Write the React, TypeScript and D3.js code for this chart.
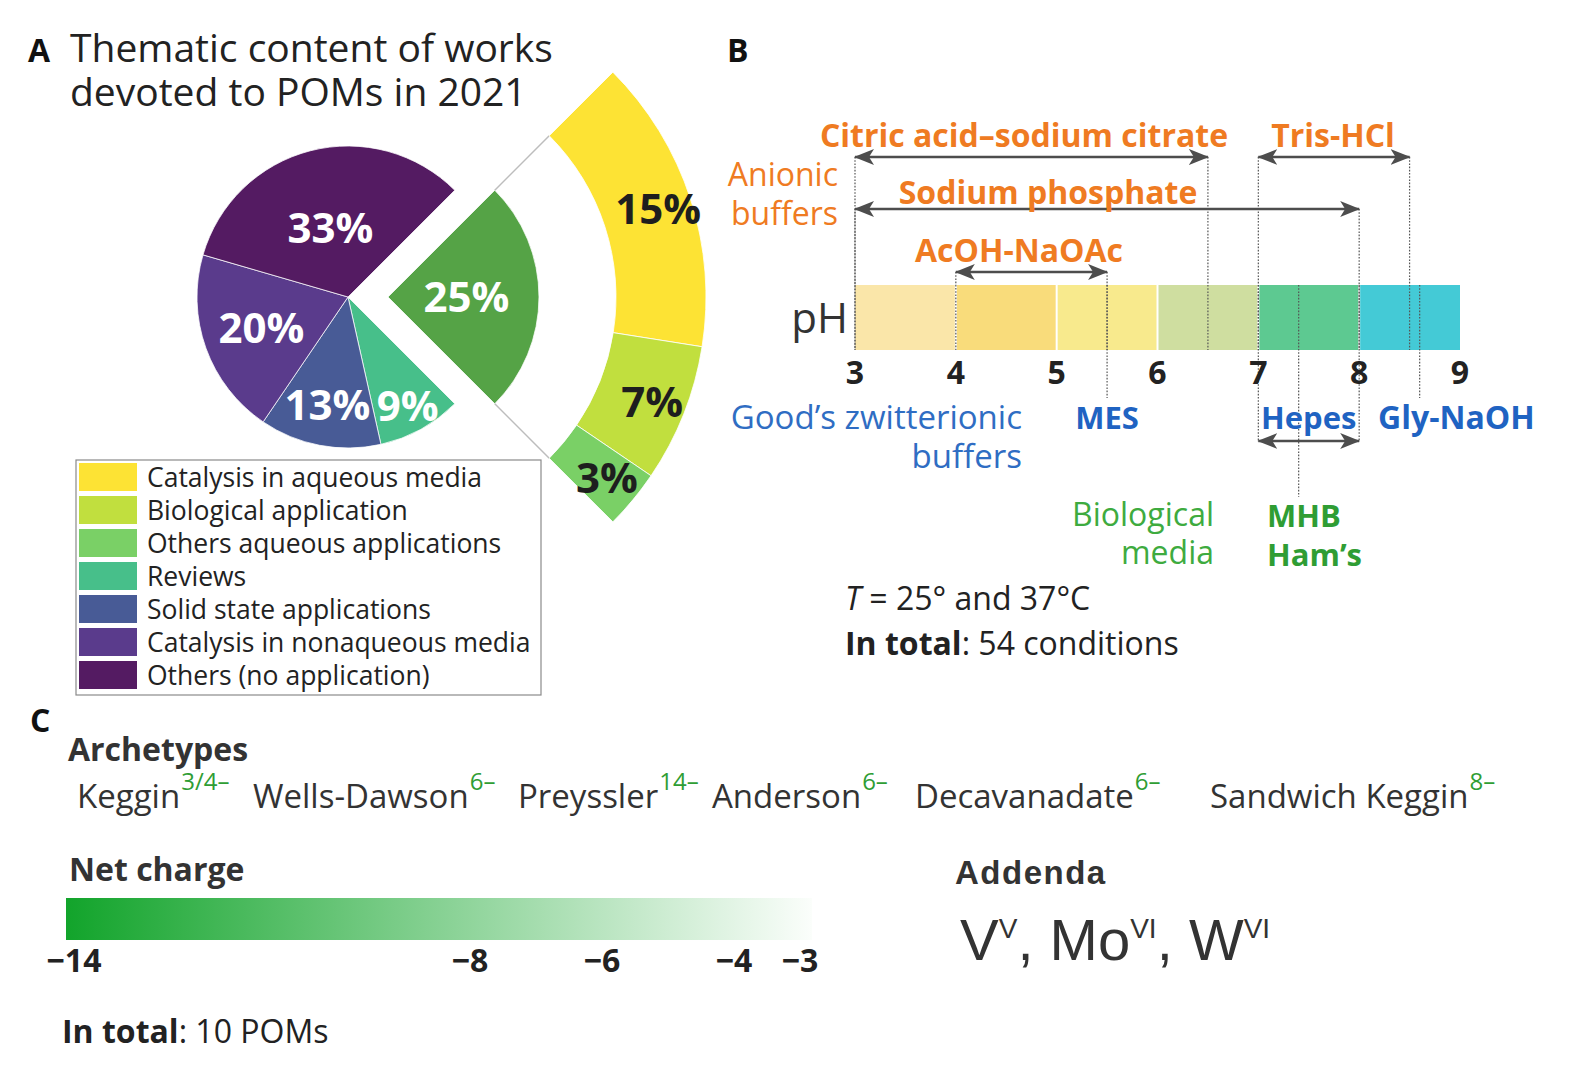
import React from "react";
import * as d3 from "d3";

// ---------- Panel A data ----------
const pieCategories = ["Aqueous applications", "Reviews", "Solid state applications", "Catalysis in nonaqueous media", "Others (no application)"];
const pieValues = [25, 9, 13, 20, 33];
const pieColors = ["#55a346", "#47bf8a", "#485b96", "#5a3b8c", "#541b62"];

const ringCategories = ["Catalysis in aqueous media", "Biological application", "Others aqueous applications"];
const ringValues = [15, 7, 3];
const ringColors = ["#fde334", "#c1df3e", "#7ad066"];

const legendLabels = ["Catalysis in aqueous media", "Biological application", "Others aqueous applications", "Reviews", "Solid state applications", "Catalysis in nonaqueous media", "Others (no application)"];
const legendColors = ["#fde334", "#c1df3e", "#7ad066", "#47bf8a", "#485b96", "#5a3b8c", "#541b62"];

// ---------- Panel B data ----------
const phTicks = [3, 4, 5, 6, 7, 8, 9];
const phBandColors = ["#fae6a9", "#f9dc7b", "#f8ea8d", "#cfdea0", "#5dc991", "#44cad6"];

const anionicNames = ["Citric acid\u2013sodium citrate", "Tris-HCl", "Sodium phosphate", "AcOH-NaOAc"];
const anionicFrom = [3, 7, 3, 4];
const anionicTo = [6.5, 8.5, 8, 5.5];

const goodsNames = ["MES", "Hepes", "Gly-NaOH"];
const goodsFrom = [5.5, 7, 8.6];
const goodsTo = [5.5, 8, 8.6];

const bioNames = ["MHB", "Ham\u2019s"];
const bioPh = 7.4;

// ---------- Panel C data ----------
const archetypeNames = ["Keggin", "Wells-Dawson", "Preyssler", "Anderson", "Decavanadate", "Sandwich Keggin"];
const archetypeCharges = ["3/4\u2013", "6\u2013", "14\u2013", "6\u2013", "6\u2013", "8\u2013"];
const chargeTicks = [-14, -8, -6, -4, -3];
const addendaElements = ["V", "Mo", "W"];
const addendaOxidation = ["V", "VI", "VI"];

const REG = "'Open Sans', 'DejaVu Sans', sans-serif";
const ARIAL = "'Liberation Sans', Arial, sans-serif";
const ORANGE = "#ef7b22";
const BLUE = "#1f63c2";
const BLUE_REG = "#2f6dc3";
const GREEN = "#2f9d34";
const GREEN_REG = "#3eab3f";
const DARK = "#222";

export default function App() {
  // ----- pie geometry -----
  const cx = 348, cy = 297, R = 151, explode = 40;
  const pie = d3.pie<number>().sort(null).startAngle(Math.PI / 4).endAngle(Math.PI / 4 + 2 * Math.PI);
  const arcs = pie(pieValues);
  const arcGen = d3.arc<any>().innerRadius(0).outerRadius(R);
  const mid0 = (arcs[0].startAngle + arcs[0].endAngle) / 2;
  const ex = cx + explode * Math.sin(mid0);
  const ey = cy - explode * Math.cos(mid0);
  const labelFrac = [0.52, 0.82, 0.73, 0.61, 0.47];

  const ringInner = 228, ringOuter = 318, ringLabelR = 284;
  const ringPie = d3.pie<number>().sort(null).startAngle(arcs[0].startAngle).endAngle(arcs[0].endAngle);
  const ringArcs = ringPie(ringValues);
  const ringGen = d3.arc<any>().innerRadius(ringInner).outerRadius(ringOuter);
  const ringLabelGen = d3.arc<any>().innerRadius(ringLabelR).outerRadius(ringLabelR);

  const connectors = [arcs[0].startAngle, arcs[0].endAngle].map((a) => ({
    x1: ex + R * Math.sin(a), y1: ey - R * Math.cos(a),
    x2: ex + ringInner * Math.sin(a), y2: ey - ringInner * Math.cos(a),
  }));

  // ----- pH scale -----
  const x = d3.scaleLinear().domain([3, 9]).range([855, 1460]);
  const barTop = 285, barBot = 350;
  const arrowY = [157, 157, 209, 272];
  const anionicLabelX = [1024, 1333, 1048, 1019];
  const anionicLabelY = [147, 147, 204, 262];
  const goodsLabelTop = 398;
  const hepesArrowY = 441;
  const bioLineEnd = 497;

  // ----- archetype layout -----
  const archetypeX = [77, 253, 518, 712, 915, 1210];

  // ----- charge scale -----
  const cScale = d3.scaleLinear().domain([-14, -3]).range([66, 812]);
  const cLabel = d3.scaleLinear().domain([-14, -3]).range([74, 800]);
  const fmt = d3.format("d");

  const arrowProps = { stroke: "#4d4d4d", strokeWidth: 2.5, markerStart: "url(#arr)", markerEnd: "url(#arr)" };
  const dotted = { stroke: "#555", strokeWidth: 1.2, strokeDasharray: "1.6 1.6" };

  return (
    <svg width={1572} height={1092} viewBox="0 0 1572 1092" style={{ position: "absolute", left: 0, top: 0, background: "#fff" }}>
      <defs>
        <marker id="arr" viewBox="0 0 20 16" refX="19" refY="8" markerWidth="20" markerHeight="16" markerUnits="userSpaceOnUse" orient="auto-start-reverse">
          <path d="M0,0 L20,8 L0,16 L5,8 Z" fill="#4d4d4d" />
        </marker>
        <linearGradient id="ncg" x1="0" x2="1" y1="0" y2="0">
          <stop offset="0" stopColor="#12a42b" />
          <stop offset="1" stopColor="#fbfefb" />
        </linearGradient>
      </defs>
      <rect x={0} y={0} width={1572} height={1092} fill="#fff" />

      {/* ================= Panel A ================= */}
      <text x={28} y={62} fontFamily={REG} fontWeight={700} fontSize={32} fill="#111">A</text>
      <text x={70} y={62} fontFamily={REG} fontSize={39} fill={DARK}>Thematic content of works</text>
      <text x={70} y={106} fontFamily={REG} fontSize={39} fill={DARK}>devoted to POMs in 2021</text>

      {arcs.map((a, i) => {
        const ox = i === 0 ? ex : cx;
        const oy = i === 0 ? ey : cy;
        return (
          <path key={pieCategories[i]} d={arcGen(a) as string} transform={`translate(${ox},${oy})`} fill={pieColors[i]} stroke="#ffffff" strokeOpacity={0.75} strokeWidth={1} />
        );
      })}
      {connectors.map((c, i) => (
        <line key={i} x1={c.x1} y1={c.y1} x2={c.x2} y2={c.y2} stroke="#bdbdbd" strokeWidth={1.5} />
      ))}
      {ringArcs.map((a, i) => (
        <path key={ringCategories[i]} d={ringGen(a) as string} transform={`translate(${ex},${ey})`} fill={ringColors[i]} stroke="#ffffff" strokeOpacity={0.8} strokeWidth={1} />
      ))}
      {arcs.map((a, i) => {
        const ox = i === 0 ? ex : cx;
        const oy = i === 0 ? ey : cy;
        const r = R * labelFrac[i];
        const [lx, ly] = d3.arc<any>().innerRadius(r).outerRadius(r).centroid(a);
        return (
          <text key={"l" + i} x={ox + lx} y={oy + ly} dy="0.36em" textAnchor="middle" fontFamily={REG} fontWeight={700} fontSize={42} fill="#fff">
            {pieValues[i]}%
          </text>
        );
      })}
      {ringArcs.map((a, i) => {
        const [lx, ly] = ringLabelGen.centroid(a);
        return (
          <text key={"rl" + i} x={ex + lx} y={ey + ly} dy="0.36em" textAnchor="middle" fontFamily={REG} fontWeight={700} fontSize={42} fill="#1e1e1e">
            {ringValues[i]}%
          </text>
        );
      })}

      {/* legend */}
      <rect x={76} y={460} width={465} height={235} fill="#fff" stroke="#8a8a8a" strokeWidth={1.2} />
      {legendLabels.map((lab, i) => (
        <g key={lab} transform={`translate(0,${463 + i * 33})`}>
          <rect x={79} y={0} width={58} height={28} fill={legendColors[i]} />
          <text x={147} y={24} fontFamily={REG} fontSize={26.5} fill={DARK}>{lab}</text>
        </g>
      ))}

      {/* ================= Panel B ================= */}
      <text x={727} y={62} fontFamily={REG} fontWeight={700} fontSize={32} fill="#111">B</text>

      {/* pH bar */}
      {phBandColors.map((c, i) => (
        <rect key={i} x={x(phTicks[i])} y={barTop} width={x(phTicks[i + 1]) - x(phTicks[i])} height={barBot - barTop} fill={c} />
      ))}
      {phTicks.slice(1, -1).map((t) => (
        <line key={"w" + t} x1={x(t)} x2={x(t)} y1={barTop} y2={barBot} stroke="#fff" strokeWidth={2} />
      ))}

      {/* guides */}
      {anionicNames.map((n, i) => (
        <g key={"g" + n}>
          <line x1={x(anionicFrom[i])} x2={x(anionicFrom[i])} y1={arrowY[i]} y2={barBot} {...dotted} />
          <line x1={x(anionicTo[i])} x2={x(anionicTo[i])} y1={arrowY[i]} y2={barBot} {...dotted} />
        </g>
      ))}
      {goodsNames.map((n, i) => (
        <g key={"gg" + n}>
          <line x1={x(goodsFrom[i])} x2={x(goodsFrom[i])} y1={barTop} y2={goodsFrom[i] === goodsTo[i] ? goodsLabelTop : hepesArrowY} {...dotted} />
          {goodsFrom[i] !== goodsTo[i] && (
            <line x1={x(goodsTo[i])} x2={x(goodsTo[i])} y1={barTop} y2={hepesArrowY} {...dotted} />
          )}
        </g>
      ))}
      <line x1={x(bioPh)} x2={x(bioPh)} y1={barTop} y2={bioLineEnd} {...dotted} />

      {/* anionic arrows and labels */}
      {anionicNames.map((n, i) => (
        <g key={"a" + n}>
          <line x1={x(anionicFrom[i])} x2={x(anionicTo[i])} y1={arrowY[i]} y2={arrowY[i]} {...arrowProps} />
          <text x={anionicLabelX[i]} y={anionicLabelY[i]} textAnchor="middle" fontFamily={REG} fontWeight={700} fontSize={32} fill={ORANGE}>{n}</text>
        </g>
      ))}
      <text x={838} y={186} textAnchor="end" fontFamily={REG} fontSize={32} fill={ORANGE}>Anionic</text>
      <text x={838} y={225} textAnchor="end" fontFamily={REG} fontSize={32} fill={ORANGE}>buffers</text>

      <text x={848} y={333} textAnchor="end" fontFamily={REG} fontSize={42} fill="#333">pH</text>
      {phTicks.map((t) => (
        <text key={"t" + t} x={x(t)} y={384} textAnchor="middle" fontFamily={REG} fontWeight={700} fontSize={32} fill={DARK}>{t}</text>
      ))}

      {/* Good's buffers */}
      <text x={1022} y={429} textAnchor="end" fontFamily={REG} fontSize={33} fill={BLUE_REG}>Good{"\u2019"}s zwitterionic</text>
      <text x={1022} y={468} textAnchor="end" fontFamily={REG} fontSize={33} fill={BLUE_REG}>buffers</text>
      <text x={x(goodsFrom[0])} y={429} textAnchor="middle" fontFamily={REG} fontWeight={700} fontSize={31} fill={BLUE}>{goodsNames[0]}</text>
      <text x={(x(goodsFrom[1]) + x(goodsTo[1])) / 2} y={429} textAnchor="middle" fontFamily={REG} fontWeight={700} fontSize={31} fill={BLUE}>{goodsNames[1]}</text>
      <text x={1378} y={429} fontFamily={REG} fontWeight={700} fontSize={32} fill={BLUE}>{goodsNames[2]}</text>
      <line x1={x(goodsFrom[1])} x2={x(goodsTo[1])} y1={hepesArrowY} y2={hepesArrowY} {...arrowProps} />

      {/* Biological media */}
      <text x={1214} y={526} textAnchor="end" fontFamily={REG} fontSize={32} fill={GREEN_REG}>Biological</text>
      <text x={1214} y={564} textAnchor="end" fontFamily={REG} fontSize={32} fill={GREEN_REG}>media</text>
      {bioNames.map((n, i) => (
        <text key={n} x={1267} y={527 + i * 39} fontFamily={REG} fontWeight={700} fontSize={31} fill={GREEN}>{n}</text>
      ))}

      <text x={845} y={610} fontFamily={REG} fontSize={32} fill={DARK}>
        <tspan fontStyle="italic">T</tspan> = 25{"\u00b0"} and 37{"\u00b0"}C
      </text>
      <text x={845} y={655} fontFamily={REG} fontSize={32} fill={DARK}>
        <tspan fontWeight={700}>In total</tspan>: 54 conditions
      </text>

      {/* ================= Panel C ================= */}
      <text x={30} y={732} fontFamily={REG} fontWeight={700} fontSize={32} fill="#111">C</text>
      <text x={68} y={761} fontFamily={REG} fontWeight={700} fontSize={32} fill="#333">Archetypes</text>
      {archetypeNames.map((n, i) => (
        <text key={n} x={archetypeX[i]} y={808} fontFamily={REG} fontSize={33} fill="#333">
          {n}
          <tspan dx={1} dy={-18} fontSize={24} fill={GREEN}>{archetypeCharges[i]}</tspan>
        </text>
      ))}

      <text x={69} y={881} fontFamily={REG} fontWeight={700} fontSize={32} fill="#333">Net charge</text>
      <rect x={cScale(-14)} y={898} width={cScale(-3) - cScale(-14)} height={42} fill="url(#ncg)" />
      {chargeTicks.map((t) => (
        <text key={"c" + t} x={cLabel(t)} y={972} textAnchor="middle" fontFamily={REG} fontWeight={700} fontSize={32} fill={DARK}>{fmt(t)}</text>
      ))}
      <text x={62} y={1043} fontFamily={REG} fontSize={32} fill={DARK}>
        <tspan fontWeight={700}>In total</tspan>: 10 POMs
      </text>

      <text x={955} y={884} fontFamily={ARIAL} fontWeight={700} fontSize={33} letterSpacing={1.5} fill="#333">Addenda</text>
      <text x={960} y={960} fontFamily={ARIAL} fontSize={58} fill="#333" style={{ whiteSpace: "pre" }}>
        {addendaElements.map((e, i) => (
          <React.Fragment key={e}>
            <tspan dy={i === 0 ? 0 : 22}>{i === 0 ? e : ", " + e}</tspan>
            <tspan dy={-22} fontSize={28}>{addendaOxidation[i]}</tspan>
          </React.Fragment>
        ))}
      </text>
    </svg>
  );
}
